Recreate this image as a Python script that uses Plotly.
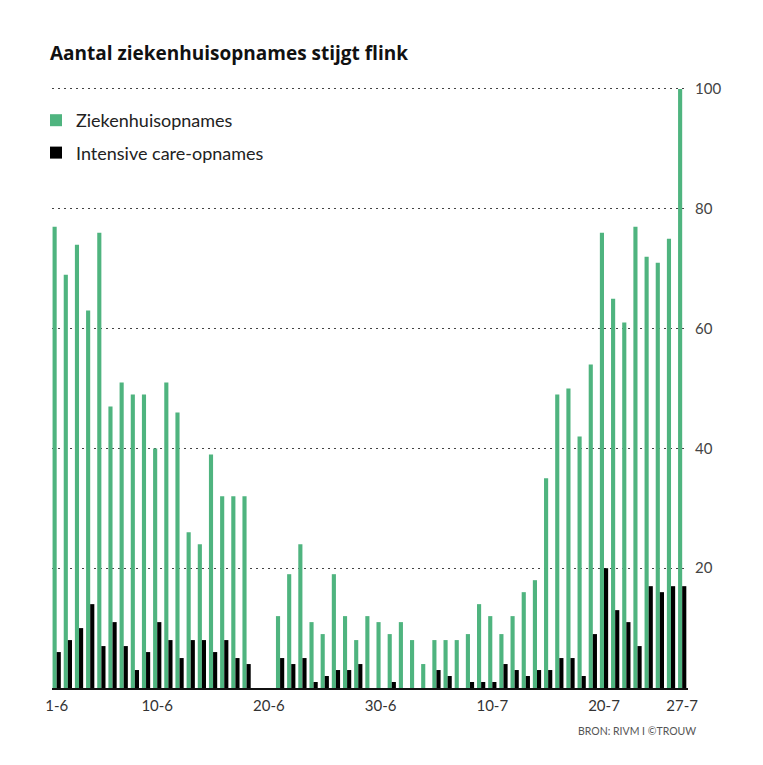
import plotly.graph_objects as go

# dagen 1 juni t/m 27 juli
dates = [f"{d}-6" for d in range(1, 31)] + [f"{d}-7" for d in range(1, 28)]

# ziekenhuisopnames per dag (19-6 en 20-6 ontbreken)
hospital = [77, 69, 74, 63, 76, 47, 51, 49, 49, 40, 51, 46, 26, 24, 39, 32, 32, 32,
            None, None,
            12, 19, 24, 11, 9, 19, 12, 8, 12, 11, 9, 11, 8, 4, 8, 8, 8, 9, 14, 12, 9,
            12, 16, 18, 35, 49, 50, 42, 54, 76, 65, 61, 77, 72, 71, 75, 100]

# intensive care-opnames per dag
ic = [6, 8, 10, 14, 7, 11, 7, 3, 6, 11, 8, 5, 8, 8, 6, 8, 5, 4,
      None, None,
      5, 4, 5, 1, 2, 3, 3, 4, 0, 0, 1, 0, 0, 0, 3, 2, 0, 1, 1, 1, 4,
      3, 2, 3, 3, 5, 5, 2, 9, 20, 13, 11, 7, 17, 16, 17, 17]

tick_dates = ["1-6", "10-6", "20-6", "30-6", "10-7", "20-7", "27-7"]
y_ticks = [20, 40, 60, 80, 100]

GREEN = "#4fb47f"
W, H = 763, 765
OFF = 8  # pagina-marge van de browser

fig = go.Figure()
fig.add_trace(go.Bar(name="Ziekenhuisopnames", x=dates, y=hospital,
                     marker_color=GREEN, marker_line_width=0, legendgroup="a"))
fig.add_trace(go.Bar(name="Intensive care-opnames", x=dates, y=ic,
                     marker_color="#000000", marker_line_width=0, legendgroup="b"))

fig.update_layout(
    width=W, height=H,
    margin=dict(l=52 - OFF, r=W - 688 + OFF, t=83 - OFF, b=H - 688 + OFF,
                autoexpand=False),
    plot_bgcolor="white", paper_bgcolor="white",
    barmode="group", bargap=0.26, bargroupgap=0,
    font=dict(family="Lato, sans-serif", color="#333"),
    title=dict(text="<b>Aantal ziekenhuisopnames stijgt flink</b>",
               x=(50 - OFF) / W, xanchor="left", xref="container",
               y=1 - (53 - OFF) / H, yanchor="middle",
               font=dict(family="Open Sans, sans-serif", size=19, color="#111")),
    legend=dict(x=(36 - OFF) / W, xref="container", xanchor="left",
                y=1 - (102 - OFF) / H, yref="container", yanchor="top",
                traceorder="grouped", tracegroupgap=6,
                font=dict(size=18, color="#222"),
                bgcolor="rgba(0,0,0,0)"),
    showlegend=True,
)

fig.update_xaxes(
    type="category", range=[-0.42, 56.52],
    tickmode="array", tickvals=tick_dates, ticktext=tick_dates,
    showgrid=False, showline=True, linecolor="#111", linewidth=2,
    ticks="", tickfont=dict(size=15, color="#333"),
    ticklabelstandoff=3,
)
fig.update_yaxes(
    range=[0, 101], side="right",
    tickmode="array", tickvals=y_ticks,
    showgrid=True, gridcolor="#444", gridwidth=1, griddash="1.5px,4.5px",
    zeroline=False, showline=False, ticks="",
    tickfont=dict(size=15, color="#444"),
    ticklabelstandoff=6,
)

fig.add_annotation(text="BRON: RIVM I ©TROUW", xref="paper", yref="paper",
                   x=(698 - 52) / 636, y=-(731 - 688) / 605,
                   xanchor="right", yanchor="middle", showarrow=False,
                   font=dict(size=10.5, color="#555"))

fig.write_html("out.html")
